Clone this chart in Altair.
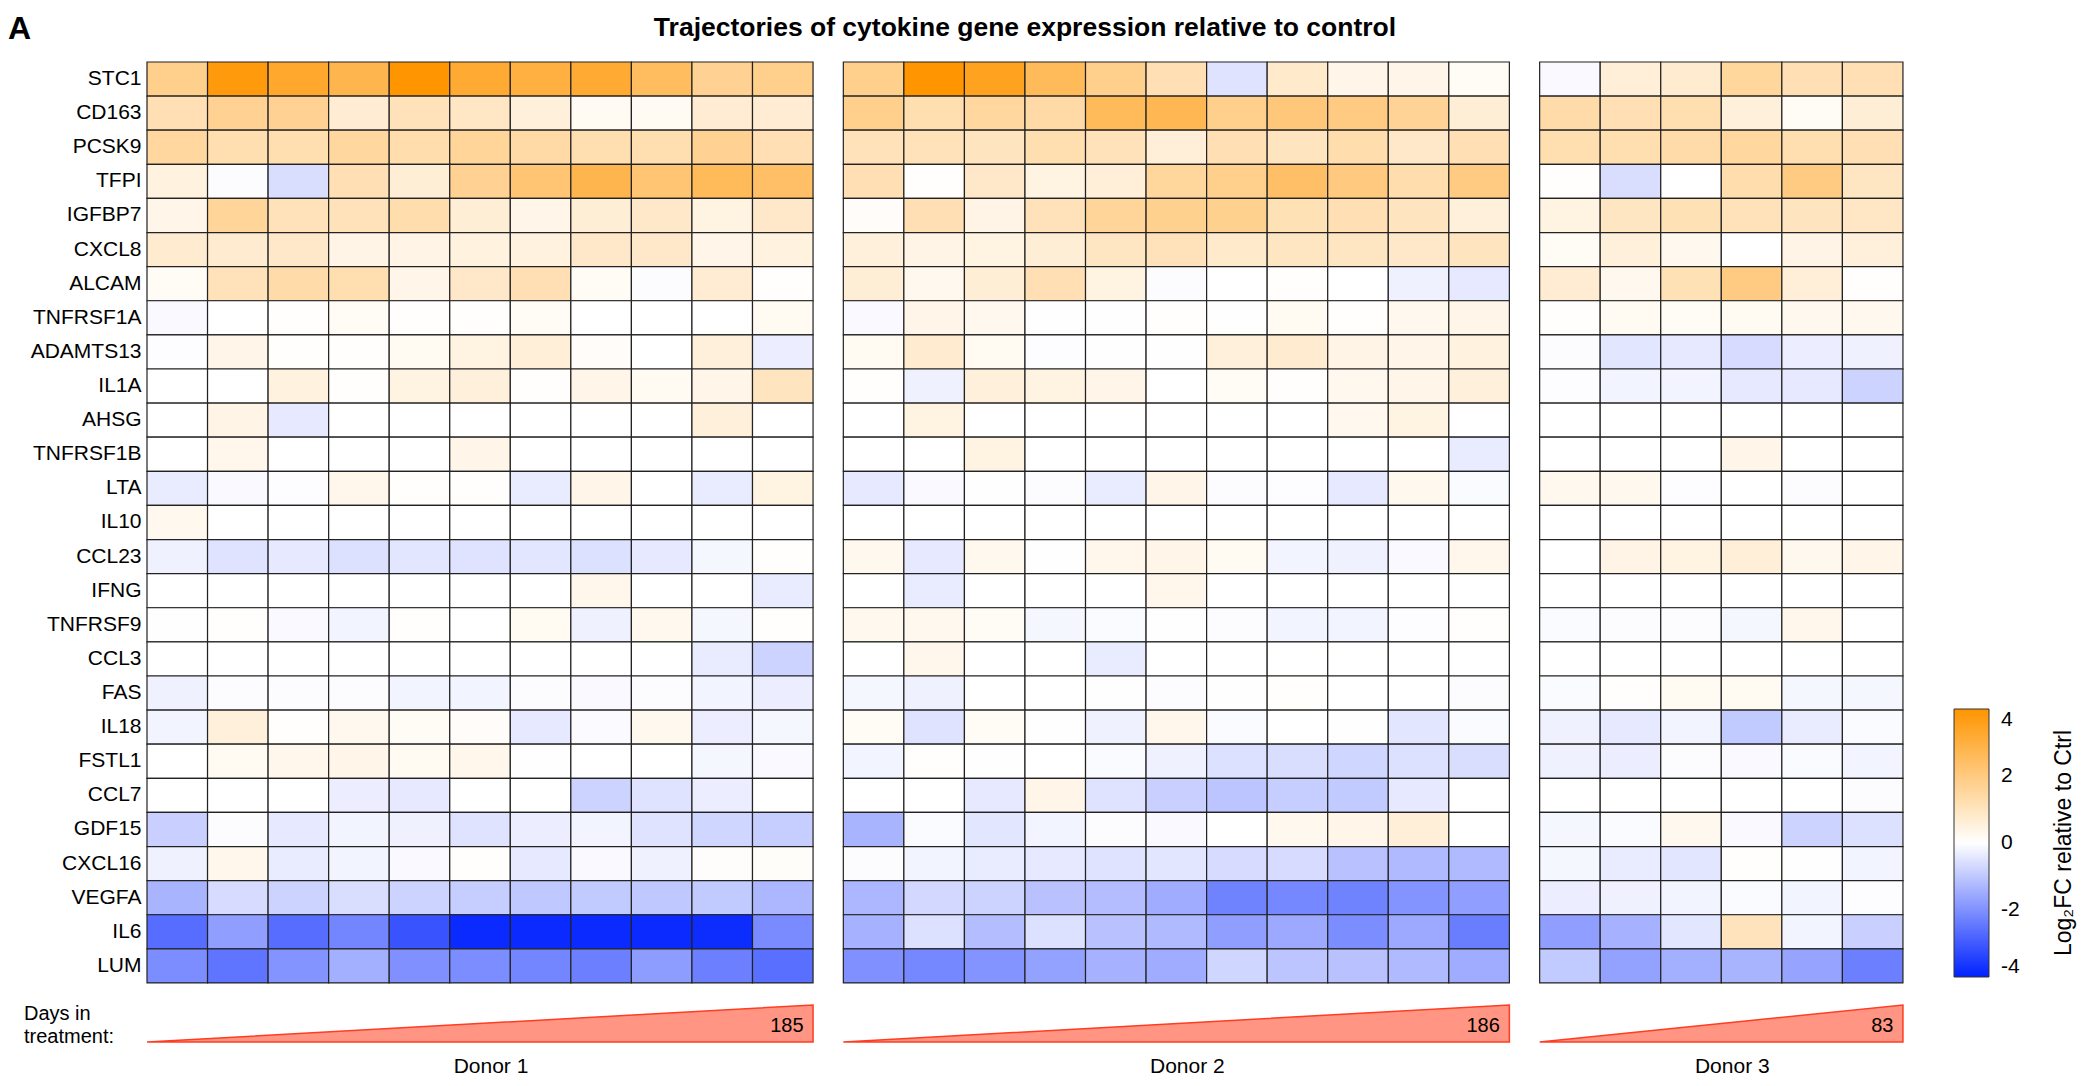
import altair as alt
import pandas as pd

# ---------------- data ----------------
genes = ["STC1", "CD163", "PCSK9", "TFPI", "IGFBP7", "CXCL8", "ALCAM", "TNFRSF1A",
         "ADAMTS13", "IL1A", "AHSG", "TNFRSF1B", "LTA", "IL10", "CCL23", "IFNG",
         "TNFRSF9", "CCL3", "FAS", "IL18", "FSTL1", "CCL7", "GDF15", "CXCL16",
         "VEGFA", "IL6", "LUM"]

donors = ["Donor 1", "Donor 2", "Donor 3"]
days_in_treatment = [185, 186, 83]

donor1 = [
    [1.8, 3.8, 3.3, 2.8, 4.0, 3.2, 3.0, 3.2, 2.5, 1.7, 1.8],            # STC1
    [1.2, 1.7, 1.7, 0.7, 1.1, 0.9, 0.55, 0.2, 0.2, 0.7, 0.7],           # CD163
    [1.5, 1.25, 1.25, 1.5, 1.3, 1.6, 1.4, 1.25, 1.25, 1.7, 1.2],        # PCSK9
    [0.5, -0.05, -0.6, 1.2, 0.65, 1.7, 2.2, 2.8, 2.2, 2.6, 2.4],        # TFPI
    [0.35, 1.6, 1.1, 1.1, 1.3, 0.65, 0.35, 0.65, 0.85, 0.45, 0.85],     # IGFBP7
    [0.75, 0.75, 0.85, 0.4, 0.4, 0.5, 0.5, 0.85, 0.85, 0.35, 0.5],      # CXCL8
    [0.15, 1.1, 1.35, 1.25, 0.35, 0.85, 1.2, 0.15, -0.05, 0.7, 0.03],   # ALCAM
    [-0.1, 0.0, 0.05, 0.15, 0.03, 0.03, 0.15, 0.0, 0.0, 0.0, 0.2],      # TNFRSF1A
    [-0.03, 0.35, 0.05, 0.05, 0.2, 0.45, 0.6, 0.1, 0.0, 0.55, -0.3],    # ADAMTS13
    [0.0, 0.0, 0.5, 0.03, 0.45, 0.55, 0.03, 0.35, 0.2, 0.35, 1.0],      # IL1A
    [0.0, 0.4, -0.4, 0.0, 0.0, 0.0, 0.0, 0.0, 0.0, 0.55, 0.0],          # AHSG
    [0.0, 0.3, 0.0, 0.0, 0.0, 0.35, 0.0, 0.0, 0.0, 0.0, 0.0],           # TNFRSF1B
    [-0.35, -0.1, -0.03, 0.3, 0.05, 0.05, -0.35, 0.35, 0.0, -0.35, 0.45],  # LTA
    [0.25, 0.0, 0.0, 0.0, 0.0, 0.0, 0.0, 0.0, 0.0, 0.0, 0.0],           # IL10
    [-0.25, -0.5, -0.4, -0.55, -0.45, -0.5, -0.45, -0.55, -0.4, -0.15, 0.03],  # CCL23
    [0.0, 0.0, 0.0, 0.0, 0.0, 0.0, 0.0, 0.3, 0.0, 0.0, -0.35],          # IFNG
    [0.02, 0.03, -0.1, -0.2, 0.03, 0.0, 0.2, -0.25, 0.25, -0.15, 0.05], # TNFRSF9
    [0.0, 0.0, 0.0, 0.0, 0.0, 0.0, 0.0, 0.0, 0.0, -0.35, -0.8],         # CCL3
    [-0.25, -0.05, -0.05, -0.05, -0.2, -0.2, -0.05, -0.1, -0.05, -0.2, -0.3],  # FAS
    [-0.2, 0.55, 0.03, 0.25, 0.15, 0.1, -0.4, -0.07, 0.25, -0.3, -0.15],  # IL18
    [0.0, 0.2, 0.3, 0.35, 0.2, 0.3, 0.02, 0.0, 0.0, -0.15, -0.1],       # FSTL1
    [0.0, 0.0, 0.0, -0.3, -0.4, 0.0, 0.0, -0.8, -0.5, -0.3, 0.0],       # CCL7
    [-0.85, -0.05, -0.4, -0.2, -0.25, -0.5, -0.3, -0.2, -0.5, -0.75, -0.9],  # GDF15
    [-0.25, 0.3, -0.35, -0.2, -0.1, 0.05, -0.4, -0.1, -0.25, 0.07, 0.08],  # CXCL16
    [-1.35, -0.65, -0.8, -0.6, -0.8, -0.9, -1.0, -0.95, -1.0, -0.95, -1.3],  # VEGFA
    [-2.65, -1.75, -2.65, -2.2, -3.1, -3.85, -3.85, -3.85, -3.85, -3.8, -2.1],  # IL6
    [-2.05, -2.5, -1.95, -1.45, -2.0, -2.05, -2.2, -2.3, -1.8, -2.3, -2.6],  # LUM
]

donor2 = [
    [1.8, 4.0, 3.5, 2.6, 1.8, 1.2, -0.5, 0.8, 0.35, 0.35, 0.15],        # STC1
    [1.8, 1.25, 1.5, 1.4, 2.6, 2.7, 1.8, 2.1, 1.95, 1.65, 0.65],        # CD163
    [1.1, 1.1, 1.0, 1.25, 1.1, 0.6, 1.2, 1.0, 1.3, 0.85, 1.2],          # PCSK9
    [1.2, 0.03, 0.85, 0.45, 0.6, 1.55, 1.8, 2.4, 2.0, 1.3, 1.95],       # TFPI
    [0.1, 1.2, 0.4, 1.1, 1.6, 1.75, 1.75, 1.15, 1.2, 1.0, 0.55],        # IGFBP7
    [0.55, 0.4, 0.45, 0.65, 0.95, 1.1, 0.8, 0.95, 0.95, 0.85, 1.0],     # CXCL8
    [0.65, 0.25, 0.65, 1.2, 0.45, -0.05, 0.0, 0.03, 0.0, -0.25, -0.4],  # ALCAM
    [-0.1, 0.35, 0.25, 0.02, 0.02, 0.05, 0.02, 0.2, 0.03, 0.25, 0.35],  # TNFRSF1A
    [0.2, 0.75, 0.2, -0.03, 0.02, 0.02, 0.55, 0.75, 0.4, 0.35, 0.5],    # ADAMTS13
    [0.03, -0.25, 0.55, 0.45, 0.35, 0.0, 0.15, 0.03, 0.25, 0.35, 0.55], # IL1A
    [0.0, 0.45, 0.0, 0.0, 0.0, 0.0, 0.0, 0.0, 0.25, 0.45, 0.0],         # AHSG
    [0.0, 0.0, 0.45, 0.0, 0.0, 0.0, 0.0, 0.0, 0.0, 0.0, -0.35],         # TNFRSF1B
    [-0.4, -0.1, 0.02, -0.05, -0.35, 0.35, -0.05, -0.03, -0.4, 0.25, -0.08],  # LTA
    [0.0, 0.0, 0.0, 0.0, 0.0, 0.0, 0.0, 0.0, 0.0, 0.0, 0.0],            # IL10
    [0.25, -0.4, 0.25, 0.02, 0.3, 0.35, 0.2, -0.2, -0.25, -0.1, 0.3],   # CCL23
    [0.0, -0.35, 0.0, 0.0, 0.0, 0.3, 0.0, 0.0, 0.0, 0.0, 0.0],          # IFNG
    [0.25, 0.25, 0.15, -0.15, -0.08, 0.02, -0.05, -0.2, -0.2, -0.03, 0.03],  # TNFRSF9
    [0.0, 0.3, 0.0, 0.0, -0.35, 0.0, 0.0, 0.0, 0.0, 0.0, 0.0],          # CCL3
    [-0.15, -0.25, 0.0, 0.0, 0.02, -0.05, 0.02, 0.03, 0.0, 0.0, -0.05], # FAS
    [0.15, -0.5, 0.15, 0.02, -0.25, 0.3, -0.08, 0.0, 0.02, -0.45, -0.08],  # IL18
    [-0.2, 0.03, -0.02, 0.0, -0.08, -0.25, -0.55, -0.6, -0.75, -0.55, -0.6],  # FSTL1
    [0.0, 0.0, -0.4, 0.35, -0.5, -0.85, -1.05, -0.9, -0.95, -0.4, 0.0], # CCL7
    [-1.35, -0.08, -0.45, -0.2, -0.05, -0.1, 0.0, 0.25, 0.35, 0.6, 0.0],  # GDF15
    [-0.05, -0.2, -0.35, -0.4, -0.5, -0.45, -0.65, -0.65, -1.1, -1.25, -1.25],  # CXCL16
    [-1.3, -0.7, -0.8, -1.1, -1.2, -1.5, -2.25, -2.15, -2.25, -1.95, -1.75],  # VEGFA
    [-1.4, -0.55, -1.2, -0.55, -1.1, -1.25, -1.75, -1.55, -2.05, -1.55, -2.35],  # IL6
    [-2.0, -2.15, -1.95, -1.7, -1.4, -1.5, -0.75, -1.05, -1.1, -1.25, -1.5],  # LUM
]

donor3 = [
    [-0.1, 0.6, 0.75, 1.55, 1.2, 1.2],      # STC1
    [1.35, 1.2, 1.25, 0.55, 0.15, 0.65],    # CD163
    [1.25, 1.25, 1.35, 1.5, 1.25, 1.2],     # PCSK9
    [0.03, -0.6, 0.0, 1.3, 1.95, 0.95],     # TFPI
    [0.45, 0.95, 1.15, 1.1, 1.0, 0.9],      # IGFBP7
    [0.15, 0.55, 0.25, 0.0, 0.4, 0.55],     # CXCL8
    [0.7, 0.25, 1.15, 1.95, 0.6, 0.05],     # ALCAM
    [0.03, 0.2, 0.15, 0.2, 0.25, 0.25],     # TNFRSF1A
    [-0.05, -0.45, -0.4, -0.65, -0.3, -0.25],  # ADAMTS13
    [-0.03, -0.2, -0.2, -0.4, -0.4, -0.8],  # IL1A
    [0.0, 0.0, 0.0, 0.0, 0.0, 0.0],         # AHSG
    [0.0, 0.0, 0.0, 0.35, 0.0, 0.0],        # TNFRSF1B
    [0.25, 0.25, -0.03, 0.0, -0.05, 0.0],   # LTA
    [0.0, 0.0, 0.0, 0.0, 0.0, 0.0],         # IL10
    [0.0, 0.4, 0.45, 0.6, 0.25, 0.35],      # CCL23
    [0.0, 0.0, 0.0, 0.0, 0.0, 0.0],         # IFNG
    [-0.08, -0.05, -0.05, -0.15, 0.3, 0.0], # TNFRSF9
    [0.0, 0.0, 0.0, 0.0, 0.0, 0.0],         # CCL3
    [-0.08, 0.03, 0.2, 0.2, -0.15, -0.15],  # FAS
    [-0.25, -0.4, -0.2, -0.95, -0.35, -0.08],  # IL18
    [-0.25, -0.3, -0.05, -0.1, -0.08, -0.2],   # FSTL1
    [0.0, 0.0, 0.0, 0.0, 0.0, -0.05],       # CCL7
    [-0.15, -0.08, 0.25, -0.1, -0.8, -0.55],   # GDF15
    [-0.15, -0.35, -0.45, 0.03, 0.02, -0.2],   # CXCL16
    [-0.3, -0.25, -0.2, -0.08, -0.2, -0.03],   # VEGFA
    [-1.75, -1.4, -0.45, 1.05, -0.2, -0.85],   # IL6
    [-0.95, -1.7, -1.45, -1.35, -1.65, -2.3],  # LUM
]

colorbar_ticks = [-4, -2, 0, 2, 4]
legend_title = "Log\u2082FC relative to Ctrl"
chart_title = "Trajectories of cytokine gene expression relative to control"
panel_letter = "A"
days_label = ["Days in", "treatment:"]

# ---------------- layout (pixels on the page) ----------------
FONT = "Liberation Sans"
LEFT, TOP = 147.0, 62.0          # page position of plot-area origin
COL_PX, ROW_PX = 60.55, 34.11    # size of one heat-map cell
GAP = 0.5                        # gap between donor panels, in cells
PLOT_H = 980.0

def dx(px):
    return (px - LEFT) / COL_PX

def dy(py):
    return (py - TOP) / ROW_PX

# ---------------- tables ----------------
cells, panels = [], []
start = 0.0
for d, mat in zip(donors, [donor1, donor2, donor3]):
    ncol = len(mat[0])
    for r, g in enumerate(genes):
        for c, v in enumerate(mat[r]):
            cells.append(dict(donor=d, gene=g, col=c + 1, value=v,
                              x=start + c, x2=start + c + 1, y=r, y2=r + 1))
    panels.append(dict(donor=d, start=start, end=start + ncol))
    start += ncol + GAP
XMAX = start - GAP
YMAX = PLOT_H / ROW_PX

cells_df = pd.DataFrame(cells)
labels_df = pd.DataFrame(dict(gene=genes, x=dx(141.5), y=[i + 0.5 for i in range(len(genes))]))

tri_rows, days_rows, donor_rows = [], [], []
tri_top, tri_bot = dy(1005), dy(1042)
for p, dval in zip(panels, days_in_treatment):
    tri_rows.append(dict(donor=p["donor"], x=p["start"], y=tri_bot, y2=tri_bot))
    tri_rows.append(dict(donor=p["donor"], x=p["end"], y=tri_top, y2=tri_bot))
    days_rows.append(dict(days=str(dval), x=p["end"] - 9.5 / COL_PX, y=dy(1032)))
    donor_rows.append(dict(donor=p["donor"], x=(p["start"] + p["end"]) / 2 + 11 / COL_PX, y=dy(1073)))
tri_df = pd.DataFrame(tri_rows)
days_df = pd.DataFrame(days_rows)
donor_df = pd.DataFrame(donor_rows)
dayslab_df = pd.DataFrame(dict(t=days_label, x=dx(24), y=[dy(1020), dy(1043)]))

# colour bar geometry (legend)
CB_LEFT, CB_TOP, CB_LEN, CB_THICK = 1954.0, 709.0, 268.0, 35.0
cbt = []
for v in colorbar_ticks[1:-1]:
    py = CB_TOP + (colorbar_ticks[-1] - v) / (colorbar_ticks[-1] - colorbar_ticks[0]) * CB_LEN
    cbt.append(dict(x=dx(CB_LEFT), x2=dx(CB_LEFT + 7), y=dy(py)))
    cbt.append(dict(x=dx(CB_LEFT + CB_THICK - 7), x2=dx(CB_LEFT + CB_THICK), y=dy(py)))
cbt_df = pd.DataFrame(cbt)
cbtitle_df = pd.DataFrame(dict(t=[legend_title], x=[dx(2064)], y=[dy(843)]))
title_df = pd.DataFrame(dict(t=[chart_title], x=[XMAX / 2], y=[dy(36)]))
letter_df = pd.DataFrame(dict(t=[panel_letter], x=[dx(8)], y=[dy(39)]))

# ---------------- scales ----------------
xs = alt.Scale(domain=[0, XMAX], nice=False, zero=False)
ys = alt.Scale(domain=[0, YMAX], nice=False, zero=False, reverse=True)
X = lambda f="x": alt.X(f"{f}:Q", scale=xs, axis=None)
Y = lambda f="y": alt.Y(f"{f}:Q", scale=ys, axis=None)

cscale = alt.Scale(domain=[-4, 0, 4], range=["#0022ff", "#ffffff", "#ff9500"],
                   interpolate="rgb", clamp=True)

heat = alt.Chart(cells_df).mark_rect(stroke="#222222", strokeWidth=1.2).encode(
    x=X(), x2="x2:Q", y=Y(), y2="y2:Q",
    color=alt.Color("value:Q", scale=cscale, legend=alt.Legend(
        orient="none", legendX=CB_LEFT - LEFT, legendY=CB_TOP - TOP,
        direction="vertical", gradientLength=CB_LEN, gradientThickness=CB_THICK,
        title=None, values=colorbar_ticks, padding=0,
        labelFont=FONT, labelFontSize=21, labelColor="black", labelOffset=12,
        gradientStrokeColor="#333333", gradientStrokeWidth=1,
        labelExpr="datum.value < 0 ? '-' + abs(datum.value) : '' + datum.value")),
    tooltip=["donor:N", "gene:N", "col:O", "value:Q"],
)

row_labels = alt.Chart(labels_df).mark_text(
    align="right", baseline="middle", font=FONT, fontSize=21, color="black"
).encode(x=X(), y=Y(), text="gene:N")

triangles = alt.Chart(tri_df).mark_area(
    color="#ff9582", fillOpacity=1, stroke="#ff3d22", strokeWidth=1.5
).encode(x=X(), y=Y(), y2="y2:Q", detail="donor:N")

days_text = alt.Chart(days_df).mark_text(
    align="right", baseline="alphabetic", font=FONT, fontSize=20, color="black"
).encode(x=X(), y=Y(), text="days:N")

donor_text = alt.Chart(donor_df).mark_text(
    align="center", baseline="alphabetic", font=FONT, fontSize=21, color="black"
).encode(x=X(), y=Y(), text="donor:N")

days_lab = alt.Chart(dayslab_df).mark_text(
    align="left", baseline="alphabetic", font=FONT, fontSize=20, color="black"
).encode(x=X(), y=Y(), text="t:N")

cb_ticks = alt.Chart(cbt_df).mark_rule(color="#444444", strokeWidth=1).encode(
    x=X(), x2="x2:Q", y=Y())

cb_title = alt.Chart(cbtitle_df).mark_text(
    align="center", baseline="middle", angle=270, font=FONT, fontSize=23, color="black"
).encode(x=X(), y=Y(), text="t:N")

title_text = alt.Chart(title_df).mark_text(
    align="center", baseline="alphabetic", font=FONT, fontSize=26.5, fontWeight="bold", color="black"
).encode(x=X(), y=Y(), text="t:N")

letter_text = alt.Chart(letter_df).mark_text(
    align="left", baseline="alphabetic", font=FONT, fontSize=32, fontWeight="bold", color="black"
).encode(x=X(), y=Y(), text="t:N")

W = XMAX * COL_PX
chart = alt.layer(
    heat, row_labels, triangles, days_text, donor_text, days_lab,
    cb_ticks, cb_title, title_text, letter_text
).properties(
    width=W, height=PLOT_H,
    autosize=alt.AutoSizeParams(type="none"),
    padding={"left": LEFT - 8, "top": TOP - 8, "right": 2073 - (LEFT - 8) - W, "bottom": 35},
).configure_view(stroke=None)

chart.save("out.html", embed_options={"renderer": "svg", "actions": False})
